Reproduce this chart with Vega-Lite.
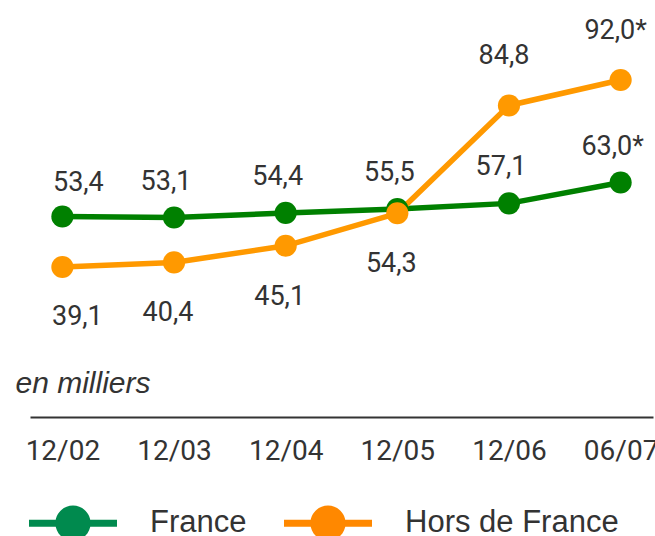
{
  "$schema": "https://vega.github.io/schema/vega-lite/v6.json",
  "width": 623,
  "height": 417,
  "autosize": "none",
  "padding": {"left": 30, "top": 0, "right": 2, "bottom": 119},
  "background": "white",
  "config": {"view": {"stroke": null}},
  "data": {
    "values": [
      {"series": "France", "date": "12/02", "value": 53.4},
      {"series": "France", "date": "12/03", "value": 53.1},
      {"series": "France", "date": "12/04", "value": 54.4},
      {"series": "France", "date": "12/05", "value": 55.5},
      {"series": "France", "date": "12/06", "value": 57.1},
      {"series": "France", "date": "06/07", "value": 63.0},
      {"series": "Hors de France", "date": "12/02", "value": 39.1},
      {"series": "Hors de France", "date": "12/03", "value": 40.4},
      {"series": "Hors de France", "date": "12/04", "value": 45.1},
      {"series": "Hors de France", "date": "12/05", "value": 54.3},
      {"series": "Hors de France", "date": "12/06", "value": 84.8},
      {"series": "Hors de France", "date": "06/07", "value": 92.0}
    ]
  },
  "transform": [
    {"calculate": "replace(format(datum.value, '.1f'), '.', ',') + (datum.date === '06/07' ? '*' : '')", "as": "label"}
  ],
  "encoding": {
    "x": {
      "field": "date",
      "type": "ordinal",
      "sort": ["12/02", "12/03", "12/04", "12/05", "12/06", "06/07"],
      "scale": {"type": "point", "padding": 0.29},
      "axis": {
        "title": null,
        "domain": true,
        "domainColor": "#333333",
        "domainWidth": 2,
        "ticks": false,
        "tickSize": 0,
        "grid": false,
        "labelAngle": 0,
        "labelPadding": 20,
        "labelFont": "Roboto",
        "labelFontSize": 28,
        "labelColor": "#333333",
        "labelOverlap": false,
        "labelBound": false
      }
    },
    "y": {
      "field": "value",
      "type": "quantitative",
      "scale": {"domain": [-3.33, 114.63], "nice": false, "zero": false},
      "axis": {
        "domain": false,
        "ticks": false,
        "labels": false,
        "grid": false,
        "title": "en milliers",
        "titleFont": "Liberation Sans, Arial, sans-serif",
        "titleFontStyle": "italic",
        "titleFontWeight": "normal",
        "titleFontSize": 30,
        "titleColor": "#333333",
        "titleAngle": 0,
        "titleAlign": "left",
        "titleBaseline": "alphabetic",
        "titleX": -15,
        "titleY": 392
      }
    }
  },
  "layer": [
    {
      "mark": {"type": "point", "filled": true, "size": 1},
      "encoding": {
        "fill": {
          "field": "series",
          "type": "nominal",
          "scale": {"domain": ["France", "Hors de France"], "range": ["#008A4E", "#FF8800"]},
          "legend": {
            "title": null,
            "orient": "none",
            "direction": "horizontal",
            "columns": 2,
            "legendX": -1,
            "legendY": 479,
            "padding": 0,
            "symbolType": "M-1,-0.08L1,-0.08L1,0.08L-1,0.08Z M-0.4,0A0.4,0.4,0,1,1,0.4,0A0.4,0.4,0,1,1,-0.4,0Z",
            "symbolSize": 7744,
            "symbolStrokeWidth": 0,
            "symbolOpacity": 1,
            "labelOffset": 33,
            "columnPadding": 37,
            "labelFont": "Liberation Sans, Arial, sans-serif",
            "labelFontSize": 31,
            "labelColor": "#333333",
            "labelLimit": 400
          }
        }
      }
    },
    {
      "mark": {"type": "line", "strokeWidth": 5.5},
      "encoding": {
        "color": {
          "field": "series",
          "type": "nominal",
          "scale": {"domain": ["France", "Hors de France"], "range": ["#008000", "#FF9900"]},
          "legend": null
        }
      }
    },
    {
      "mark": {"type": "circle", "size": 490, "opacity": 1},
      "encoding": {
        "color": {
          "field": "series",
          "type": "nominal",
          "scale": {"domain": ["France", "Hors de France"], "range": ["#008000", "#FF9900"]},
          "legend": null
        }
      }
    },
    {
      "transform": [{"filter": "datum.series === 'France' && datum.date !== '12/02'"}],
      "mark": {"type": "text", "font": "Roboto", "fontSize": 27, "fill": "#333333", "baseline": "alphabetic", "dx": -8, "dy": -28},
      "encoding": {"text": {"field": "label"}}
    },
    {
      "transform": [{"filter": "datum.series === 'France' && datum.date === '12/02'"}],
      "mark": {"type": "text", "font": "Roboto", "fontSize": 27, "fill": "#333333", "baseline": "alphabetic", "dx": 16, "dy": -25},
      "encoding": {"text": {"field": "label"}}
    },
    {
      "transform": [{"filter": "datum.series === 'Hors de France' && (datum.date === '12/03' || datum.date === '12/04' || datum.date === '12/05')"}],
      "mark": {"type": "text", "font": "Roboto", "fontSize": 27, "fill": "#333333", "baseline": "alphabetic", "dx": -6, "dy": 59},
      "encoding": {"text": {"field": "label"}}
    },
    {
      "transform": [{"filter": "datum.series === 'Hors de France' && datum.date === '12/02'"}],
      "mark": {"type": "text", "font": "Roboto", "fontSize": 27, "fill": "#333333", "baseline": "alphabetic", "dx": 15, "dy": 58},
      "encoding": {"text": {"field": "label"}}
    },
    {
      "transform": [{"filter": "datum.series === 'Hors de France' && (datum.date === '12/06' || datum.date === '06/07')"}],
      "mark": {"type": "text", "font": "Roboto", "fontSize": 27, "fill": "#333333", "baseline": "alphabetic", "dx": -5, "dy": -41},
      "encoding": {"text": {"field": "label"}}
    }
  ]
}
